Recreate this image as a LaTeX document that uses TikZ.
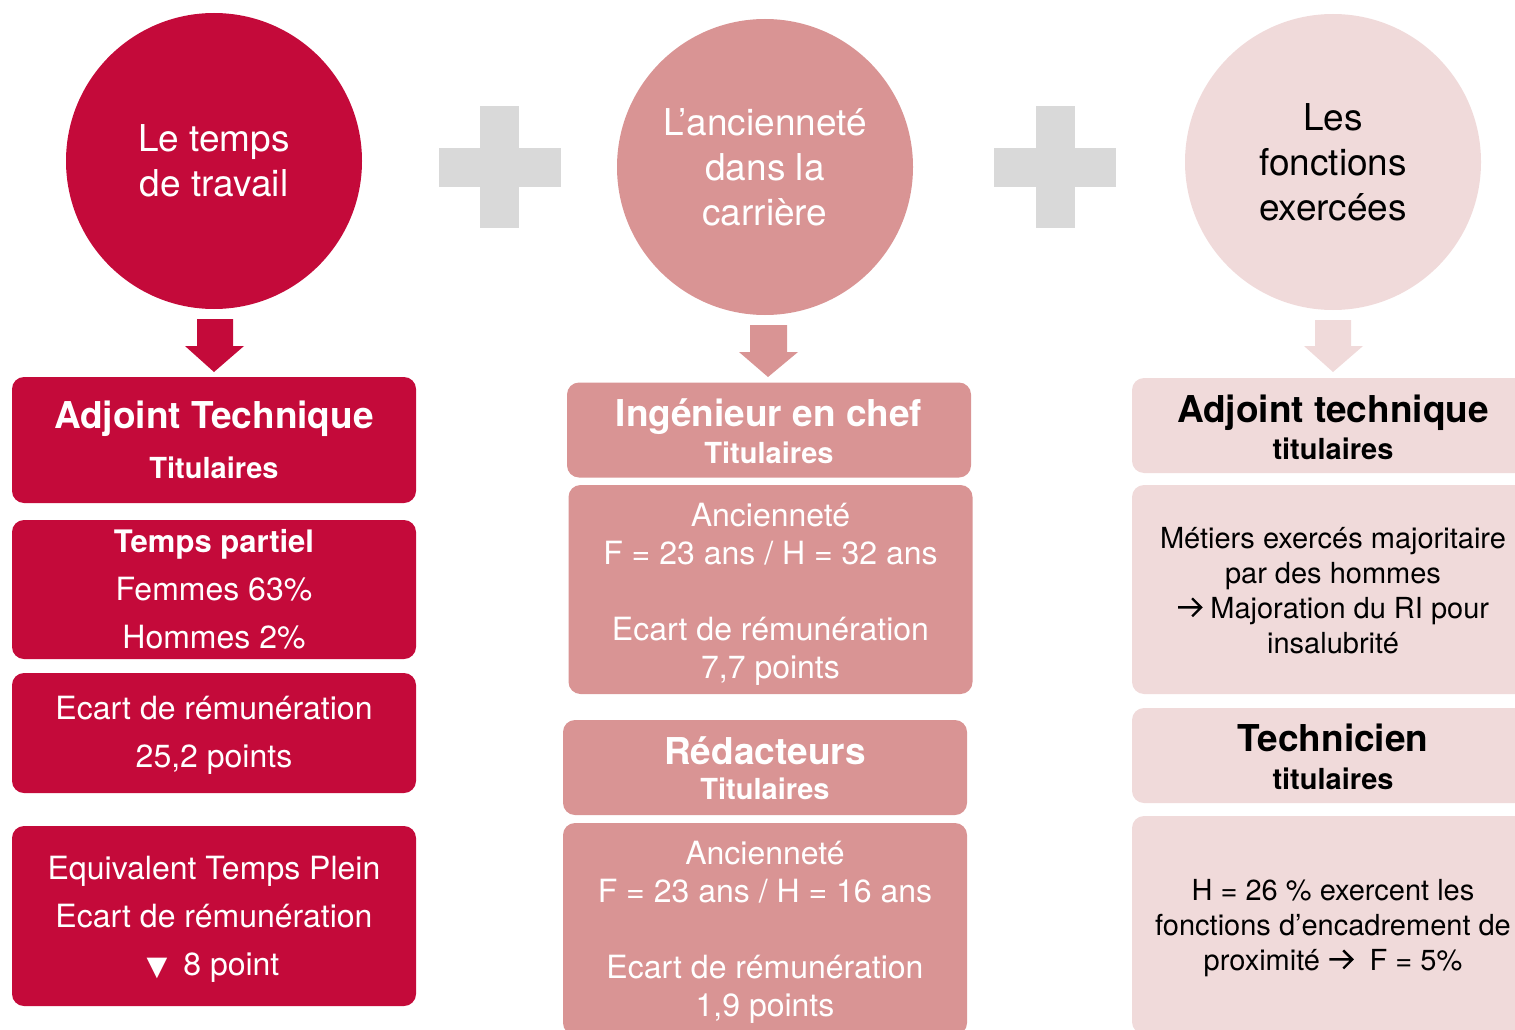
\documentclass[tikz,border=0pt]{standalone}
\usepackage{fontspec}
\setmainfont{TeX Gyre Heros}
\newfontfamily\symf{DejaVu Sans}
\definecolor{cA}{RGB}{196,10,58}
\definecolor{cB}{RGB}{217,148,148}
\definecolor{cC}{RGB}{240,218,218}
\definecolor{cP}{RGB}{217,217,217}
\newcommand{\blkarrow}{\tikz[baseline=0pt,x=1pt,y=1pt]{\draw[black,line width=2.4pt,line join=miter] (0,11)--(23,11) (14,2)--(23,11)--(14,20);}}
\begin{document}
\begin{tikzpicture}[x=1pt,y=-1pt,
  circ/.style={circle, minimum size=296pt, inner sep=0pt, align=center, font=\fontsize{37}{45}\selectfont},
  box/.style={rounded corners=12pt, inner sep=0pt},
  darkbox/.style={box, fill=cA, minimum width=404pt},
  midbox/.style={box, fill=cB, minimum width=404pt},
  lightbox/.style={box, fill=cC, minimum width=402pt},
  txt/.style={inner sep=0pt, align=center},
  wtxt/.style={txt, text=white},
  ktxt/.style={txt, text=black},
  bodyfont/.style={font=\fontsize{32}{38}\selectfont},
  widefont/.style={font=\fontsize{32}{48}\selectfont},
  smallfont/.style={font=\fontsize{29}{35}\selectfont},
  plusshape/.style={fill=cP},
]
\useasboundingbox (0,0) rectangle (1515,1030);
\clip (0,0) rectangle (1515,1030);

% circles
\node[circ, fill=cA, text=white] (c1) at (214,161) {Le temps\\de travail};
\node[circ, fill=cB, text=white] (c2) at (765,167) {L’ancienneté\\dans la\\carrière};
\node[circ, fill=cC, text=black] (c3) at (1333,162) {Les\\fonctions\\exercées};

% plus signs
\fill[plusshape] (480,106) rectangle (519,228);
\fill[plusshape] (439,148) rectangle (561,187);
\fill[plusshape] (1036,106) rectangle (1075,228);
\fill[plusshape] (994,148) rectangle (1116,187);

% block arrows
\fill[cA] (197,319) -- (233,319) -- (233,346) -- (244,346) -- (214,372) -- (185,346) -- (197,346) -- cycle;
\fill[cB] (750,325) -- (787,325) -- (787,352) -- (798,352) -- (768,377) -- (739,352) -- (750,352) -- cycle;
\fill[cC] (1315,320) -- (1351,320) -- (1351,346) -- (1363,346) -- (1333,372) -- (1304,346) -- (1315,346) -- cycle;

% left column
\node[darkbox, minimum height=126pt] (a1) at (214,440) {};
\node[wtxt, font=\fontsize{37}{50}\selectfont\bfseries] (a1t) at (a1.center)
  {Adjoint Technique\\{\fontsize{29}{35}\selectfont Titulaires}};
\node[darkbox, minimum height=139pt] (a2) at (214,589.5) {};
\node[wtxt, widefont] (a2t) at ([yshift=0.5pt]a2.center)
  {{\bfseries\fontsize{31}{48}\selectfont Temps partiel}\\Femmes 63\%\\Hommes 2\%};
\node[darkbox, minimum height=120pt] (a3) at (214,733) {};
\node[wtxt, widefont] (a3t) at ([yshift=-2pt]a3.center)
  {Ecart de rémunération\\25,2 points};
\node[darkbox, minimum height=180pt] (a4) at (214,916) {};
\node[wtxt, widefont] (a4t) at ([yshift=-3pt]a4.center)
  {Equivalent Temps Plein\\Ecart de rémunération\\\hspace*{-2pt}{\symf\fontsize{27}{48}\selectfont ▼}\hspace{16pt}8 point};

% middle column
\node[midbox, minimum height=95pt] (b1) at (769,430) {};
\node[wtxt, font=\fontsize{37}{37}\selectfont\bfseries] (b1t) at ([yshift=-1.5pt]b1.center)
  {Ingénieur en chef\\{\fontsize{29}{35}\selectfont Titulaires}};
\node[midbox, minimum height=209pt] (b2) at (770.5,589.5) {};
\node[wtxt, bodyfont] (b2t) at ([yshift=-4.5pt]b2.center)
  {Ancienneté\\F = 23 ans / H = 32 ans\\[38pt]Ecart de rémunération\\7,7 points};
\node[midbox, minimum height=95pt] (b3) at (765,767.5) {};
\node[wtxt, font=\fontsize{37}{35}\selectfont\bfseries] (b3t) at ([yshift=-0.5pt]b3.center)
  {Rédacteurs\\{\fontsize{29}{35}\selectfont Titulaires}};
\node[midbox, minimum height=212pt] (b4) at (765,929) {};
\node[wtxt, bodyfont] (b4t) at ([yshift=-3pt]b4.center)
  {Ancienneté\\F = 23 ans / H = 16 ans\\[38pt]Ecart de rémunération\\1,9 points};

% right column
\node[lightbox, minimum height=95pt] (r1) at (1333,425.5) {};
\node[ktxt, font=\fontsize{37}{37}\selectfont\bfseries] (r1t) at ([yshift=-1.5pt]r1.center)
  {Adjoint technique\\{\fontsize{29}{35}\selectfont titulaires}};
\node[lightbox, minimum height=209pt] (r2) at (1333,589.5) {};
\node[ktxt, smallfont] (r2t) at ([yshift=-1pt]r2.center)
  {Métiers exercés majoritaire\\par des hommes\\\blkarrow\ Majoration du RI pour\\insalubrité};
\node[lightbox, minimum height=95pt] (r3) at (1333,755.5) {};
\node[ktxt, font=\fontsize{37}{38}\selectfont\bfseries] (r3t) at ([yshift=-1.5pt]r3.center)
  {Technicien\\{\fontsize{29}{35}\selectfont titulaires}};
\node[lightbox, minimum height=218pt] (r4) at (1333,925) {};
\node[ktxt, smallfont] (r4t) at ([yshift=-3pt]r4.center)
  {H = 26 \% exercent les\\fonctions d’encadrement de\\proximité \blkarrow\ \ F = 5\%};
\end{tikzpicture}
\end{document}
